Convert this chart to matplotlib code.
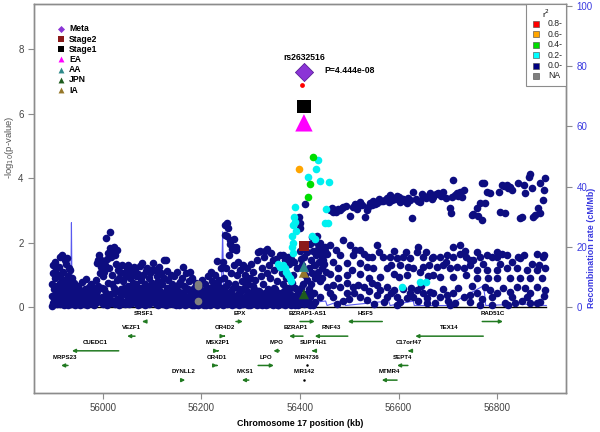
import matplotlib
matplotlib.use("Agg")
import matplotlib.pyplot as plt

plt.rcParams['font.family'] = ['Liberation Sans', 'DejaVu Sans']

# SNPs: (position kb, -log10 p), grouped by r2 colour
navy_west = [
    (55896,0.02),(55897,0.35),(55897,0.72),(55898,1.05),(55899,1.3),(55900,0.18),(55901,0.55),(55902,0.9),
    (55903,1.41),(55904,0.28),(55905,1.18),(55906,0.65),(55907,0.08),(55908,0.45),(55909,0.98),(55910,1.25),
    (55911,0.3),(55912,0.75),(55913,1.55),(55914,0.15),(55915,0.52),(55916,1.62),(55917,0.88),(55918,0.35),
    (55919,1.1),(55920,0.05),(55921,0.62),(55922,1.46),(55923,0.25),(55924,0.8),(55925,1.35),(55926,0.42),
    (55927,1.51),(55928,0.12),(55929,0.95),(55930,0.58),(55931,1.2),(55932,0.3),(55933,1.15),(55934,0.7),
    (55935,0.08),(55936,0.48),(55937,0.9),(55938,0.22),(55939,0.6),(55940,0.38),(55941,0.12),(55942,0.75),
    (55943,0.28),(55944,0.05),(55946,0.42),(55948,0.15),(55950,0.65),(55951,0.3),(55953,0.05),(55955,0.5),
    (55956,0.22),(55958,0.78),(55960,0.35),(55961,0.1),(55963,0.55),(55965,0.25),(55966,0.88),(55968,0.4),
    (55970,0.08),(55971,0.62),(55973,0.3),(55975,0.18),(55976,0.72),(55978,0.45),(55980,0.1),(55981,0.58),
    (55983,0.28),(55985,0.85),(55986,0.4),(55988,0.15),(55989,0.65),
    (55987,1.36),(55990,1.46),(55992,1.61),(55994,1.05),(55996,1.25),(55997,1.46),(55999,0.3),(56000,0.95),
    (56002,1.1),(56003,0.55),(56005,1.3),(56006,2.13),(56008,1.5),(56010,0.75),(56011,1.67),(56012,1.2),
    (56014,2.34),(56015,1.82),(56016,0.4),(56017,1.56),(56018,1.0),(56020,1.72),(56021,0.2),(56022,1.85),
    (56023,0.6),(56024,1.62),(56026,1.35),(56028,1.77),(56029,0.85),(56030,1.15),(56004,0.15),(56009,0.05),
    (56013,0.35),(56019,0.7),(56025,0.1),(56027,0.5),
]
navy_centre = [
    (56032,0.9),(56034,0.25),(56035,1.1),(56037,0.55),(56038,1.3),(56040,0.12),(56041,0.8),(56043,1.05),
    (56044,0.4),(56046,0.95),(56047,0.2),(56049,1.2),(56050,0.65),(56051,1.3),(56053,0.08),(56054,0.9),
    (56056,0.45),(56057,1.1),(56059,0.3),(56060,0.75),(56062,1.25),(56063,0.15),(56065,1.15),(56066,0.55),
    (56068,0.95),(56069,0.35),(56071,0.05),(56072,1.02),(56074,0.6),(56075,1.28),(56077,0.25),(56078,0.85),
    (56079,1.36),(56081,0.45),(56082,1.0),(56084,0.15),(56085,0.7),(56087,1.12),(56088,0.3),(56090,1.2),
    (56091,0.55),(56093,0.9),(56094,0.1),(56096,1.05),(56097,0.4),(56099,0.75),(56100,1.15),(56102,1.36),
    (56103,0.2),(56105,0.62),(56106,1.15),(56108,0.35),(56109,0.95),(56111,0.05),(56112,0.8),(56114,1.25),
    (56115,0.5),(56117,0.25),(56118,1.05),(56120,0.7),(56121,0.12),(56123,0.9),(56124,1.46),(56126,0.4),
    (56127,1.46),(56129,0.6),(56130,1.12),
    (56132,0.3),(56133,0.85),(56135,0.08),(56136,0.55),(56138,1.0),(56140,0.2),(56141,0.7),(56143,0.4),
    (56145,0.95),(56146,0.12),(56148,0.6),(56150,0.3),(56151,1.1),(56153,0.5),(56155,0.05),(56156,0.78),
    (56158,0.25),(56160,0.9),(56161,0.45),(56162,1.25),(56164,0.15),(56165,0.65),(56167,0.35),(56169,1.05),
    (56170,0.1),(56172,0.55),(56174,0.8),(56175,0.28),(56177,1.1),(56179,0.42),(56180,0.9),(56182,0.18),
    (56184,0.6),(56185,0.05),(56187,0.35),(56189,0.75),(56190,0.2),(56194,0.45),(56196,0.1),(56198,0.55),
    (56200,0.3),(56201,0.85),(56203,0.15),(56205,0.5),(56207,0.25),(56208,0.7),(56210,0.05),(56212,0.4),
    (56214,0.95),(56215,0.2),(56217,0.6),(56219,1.1),(56220,0.3),(56222,0.8),(56224,0.12),(56226,0.5),
    (56228,1.0),(56229,0.35),(56231,1.43),(56233,0.65),(56234,0.18),(56236,0.85),(56238,0.45),(56239,1.2),
]
navy_floor = [
    (55899,0.12),(55904,0.42),(55908,0.22),(55913,0.1),(55917,0.45),(55921,0.3),(55926,0.18),(55930,0.05),
    (55934,0.35),(55939,0.5),(55944,0.2),(55947,0.55),(55952,0.1),(55957,0.4),(55962,0.2),(55967,0.05),
    (55972,0.45),(55977,0.25),(55982,0.05),(55987,0.5),(55993,0.2),(55998,0.6),(56001,0.1),(56007,0.45),
    (56012,0.25),(56017,0.12),(56022,0.45),(56028,0.25),(56033,0.05),(56036,0.4),(56042,0.6),(56045,0.1),
    (56048,0.5),(56052,0.3),(56055,0.6),(56058,0.12),(56061,0.45),(56064,0.3),(56067,0.7),(56070,0.2),
    (56073,0.4),(56076,0.1),(56080,0.6),(56083,0.3),(56086,0.05),(56089,0.45),(56092,0.25),(56095,0.6),
    (56098,0.15),(56101,0.5),(56104,0.35),(56107,0.1),(56110,0.55),(56113,0.3),(56116,0.7),(56119,0.4),
    (56122,0.1),(56125,0.25),(56128,0.05),(56131,0.5),(56134,0.35),(56137,0.15),(56139,0.6),(56142,0.1),
    (56144,0.25),(56147,0.45),(56149,0.05),(56152,0.2),(56154,0.7),(56157,0.45),(56159,0.1),(56163,0.3),
    (56166,0.05),(56168,0.55),(56171,0.3),(56173,0.12),(56176,0.5),(56178,0.2),(56181,0.05),(56183,0.35),
    (56186,0.55),(56188,0.1),(56191,0.4),(56193,0.05),(56195,0.3),(56197,0.7),(56199,0.12),(56202,0.45),
    (56204,0.3),(56206,0.05),(56209,0.35),(56211,0.6),(56213,0.15),(56216,0.4),(56218,0.05),(56221,0.5),
    (56223,0.25),(56225,0.7),(56227,0.1),(56230,0.3),(56232,0.05),(56235,0.5),(56237,0.2),(56240,0.35),
    (56243,0.05),(56246,0.2),(56249,0.65),(56252,0.1),(56255,0.4),(56258,0.25),(56261,0.05),(56263,0.6),
    (56266,0.35),(56269,0.1),(56273,0.2),(56276,0.05),(56278,0.35),(56281,0.5),(56283,0.1),(56286,0.25),
    (56288,0.8),(56291,0.1),(56293,0.5),(56296,0.25),(56298,0.05),(56301,0.4),(56303,0.1),(56306,0.55),
    (56308,0.2),(56311,0.35),(56313,0.05),(56316,0.5),(56318,0.1),(56321,0.3),(56323,0.05),(56326,0.2),
    (56328,0.45),(56331,0.05),(56334,0.3),(56336,0.1),(56339,0.5),(56341,0.2),(56344,0.35),(56346,0.05),
    (56349,0.55),(56351,0.15),(56354,0.3),(56356,0.05),(56359,0.2),(56361,0.4),(56364,0.1),(56367,0.5),
    (56369,0.05),(56371,0.3),(56374,0.6),(56376,0.15),(56379,0.4),(56381,0.05),(56384,0.3),(56386,0.15),
    (56389,0.05),(56391,0.35),(56394,0.2),(56396,0.05),(56403,0.6),(56407,0.35),(56412,0.2),(56417,0.45),
    (56421,0.05),
]
navy_peak = [
    (56241,0.1),(56242,0.6),(56244,1.41),(56245,0.3),(56246,0.9),(56247,2.24),(56248,2.55),(56249,1.2),
    (56250,0.45),(56251,2.6),(56252,2.2),(56253,0.75),(56254,2.45),(56255,1.6),(56256,0.2),(56257,2.08),
    (56258,1.95),(56259,1.05),(56260,0.5),(56261,1.8),(56262,0.3),(56264,1.87),(56265,2.1),(56266,1.3),
    (56267,0.15),(56268,0.7),(56270,1.77),(56271,1.85),(56272,1.0),(56274,0.4),(56275,1.4),
    (56277,0.55),(56279,1.15),(56280,0.25),(56282,0.8),(56284,1.3),(56285,0.1),(56287,0.6),(56289,1.0),
    (56290,0.35),(56292,1.2),(56294,0.05),(56295,0.7),(56297,0.45),(56299,0.9),(56300,1.35),(56302,0.2),
    (56304,0.65),(56305,1.1),(56307,0.3),(56309,0.85),(56310,0.08),(56312,1.45),(56314,0.5),(56315,1.7),
    (56317,0.25),(56319,1.74),(56320,0.95),(56322,1.2),(56324,0.4),(56325,0.7),(56327,1.55),(56329,1.75),
    (56330,0.15),(56332,1.05),(56333,1.79),(56335,0.55),(56337,1.3),(56338,0.3),(56340,0.9),(56342,1.67),
    (56343,0.1),(56345,1.45),(56347,0.6),(56348,1.15),(56350,0.35),(56352,1.5),(56353,0.8),(56355,0.05),
    (56357,1.25),(56358,0.45),(56360,1.6),(56362,0.25),(56363,1.05),(56365,0.7),(56366,1.6),(56368,0.3),
    (56370,1.45),(56372,0.9),(56373,0.15),(56375,1.55),(56377,0.55),(56378,1.35),(56380,0.2),(56382,1.5),
    (56383,0.75),(56385,1.0),(56387,0.35),(56388,1.4),(56390,0.6),(56392,0.1),(56393,1.2),(56395,0.45),
    (56398,2.8),(56400,2.6),(56401,2.45),(56399,1.75),(56402,1.5),(56404,0.25),(56405,1.3),(56406,0.7),
    (56408,1.55),(56409,0.1),(56410,3.2),(56411,1.0),(56413,0.4),(56414,1.7),(56415,0.85),(56416,0.15),
    (56418,1.2),(56419,0.55),(56420,1.95),(56421,0.3),(56422,1.45),(56423,0.7),(56424,2.18),(56425,1.05),
    (56426,0.05),(56427,1.75),(56428,0.45),(56429,1.3),(56430,0.9),
]
navy_east_top = [
    (56461,3.01),(56465,3.06),(56468,2.94),(56471,3.0),(56474,2.96),(56478,3.05),(56481,3.01),(56485,3.08),
    (56488,3.1),(56494,3.15),(56502,2.83),(56507,3.12),(56511,3.2),(56515,3.05),(56518,3.13),(56521,3.27),
    (56526,3.18),(56532,2.8),(56535,3.01),(56539,3.12),(56543,3.22),(56546,3.17),(56549,3.3),(56552,3.2),
    (56556,3.22),(56560,3.35),(56564,3.28),(56568,3.3),(56573,3.32),(56577,3.38),(56580,3.25),(56583,3.48),
    (56586,3.32),(56589,3.4),(56593,3.34),(56597,3.45),(56600,3.43),(56603,3.27),(56607,3.35),(56610,3.37),
    (56613,3.3),(56617,3.22),(56620,3.4),(56623,3.32),(56627,2.75),(56630,3.58),(56636,3.35),(56640,3.3),
    (56644,3.27),(56647,3.5),(56650,3.43),(56655,3.4),(56661,3.48),(56664,3.55),(56667,3.37),(56671,3.43),
    (56676,3.5),(56681,3.53),(56686,3.45),(56691,3.58),(56697,3.4),(56705,3.06),(56706,2.91),(56708,3.43),
    (56711,3.94),(56714,3.48),(56718,3.53),(56721,3.45),(56725,3.58),(56728,3.43),(56732,3.63),(56749,2.86),
    (56752,2.9),(56759,3.06),(56762,2.83),(56766,3.22),(56769,2.7),(56770,3.84),(56773,3.84),(56776,3.22),
    (56779,3.58),(56786,3.53),(56803,3.58),(56806,2.95),(56810,3.79),(56816,2.91),(56815,3.75),(56820,3.79),
    (56823,3.7),(56826,3.74),(56830,3.63),(56843,3.84),(56847,2.75),(56850,2.78),(56854,3.79),(56857,3.53),
    (56864,4.05),(56867,4.13),(56870,3.69),(56874,2.8),(56878,2.85),(56884,3.06),(56887,3.84),(56888,2.91),
    (56893,3.32),(56896,3.63),(56898,4.0),
]
navy_east_mid = [
    (56434,1.98),(56441,1.77),(56451,1.87),(56461,1.93),(56474,1.77),(56488,2.08),(56502,1.93),(56512,1.77),
    (56522,1.77),(56539,1.56),(56556,1.93),(56546,1.56),(56569,1.56),(56583,1.56),(56596,1.51),(56610,1.56),
    (56623,1.51),(56640,1.87),(56637,1.72),(56650,1.56),(56667,1.51),(56661,1.3),(56630,1.2),(56603,1.3),
    (56576,1.2),(56549,1.2),(56522,1.36),(56495,1.36),(56468,1.41),(56447,1.46),(56430,1.3),(56444,1.2),
    (56434,0.99),(56461,1.04),(56495,0.99),(56522,1.04),(56562,0.94),(56590,1.04),(56617,0.99),(56644,1.1),
    (56455,1.65),(56482,1.6),(56508,1.6),(56530,1.65),(56560,1.7),(56590,1.75),(56615,1.7),(56655,1.7),
    (56478,1.2),(56505,1.15),(56535,1.25),(56585,1.3),(56620,1.25),(56650,1.25),(56478,0.9),(56540,0.9),
    (56600,0.92),(56660,0.95),(56432,1.6),(56436,1.8),(56438,1.4),(56440,2.0),(56443,1.7),(56445,1.55),
    (56434,2.2),(56437,1.1),(56440,0.8),(56445,0.9),(56448,1.35),(56450,1.75),(56452,1.1),
    (56711,1.87),(56725,1.93),(56671,1.56),(56684,1.56),(56698,1.61),(56711,1.56),(56725,1.66),(56738,1.56),
    (56752,1.46),(56766,1.56),(56779,1.61),(56789,1.56),(56799,1.56),(56810,1.66),(56820,1.61),(56843,1.56),
    (56847,1.51),(56881,1.66),(56896,1.61),(56894,1.56),(56678,1.25),(56691,1.3),(56705,1.2),(56718,1.25),
    (56732,1.2),(56745,1.3),(56759,1.15),(56779,1.15),(56799,1.15),(56820,1.2),(56840,1.2),(56860,1.15),
    (56881,1.15),(56898,1.2),(56671,0.99),(56684,0.94),(56711,0.94),(56738,0.99),(56759,0.89),(56782,0.89),
    (56799,0.89),(56826,0.89),(56847,0.89),(56867,0.89),(56891,0.89),(56697,1.4),(56745,1.45),(56771,1.35),
    (56805,1.35),(56830,1.4),(56870,1.35),(56855,1.62),(56885,1.3),(56760,1.7),(56800,1.72),(56735,1.75),
]
navy_east_low = [
    (56454,0.63),(56468,0.68),(56481,0.63),(56495,0.74),(56508,0.63),(56518,0.68),(56529,0.63),(56546,0.74),
    (56556,0.68),(56562,0.53),(56576,0.63),(56590,0.53),(56623,0.43),(56637,0.53),(56650,0.43),(56664,0.48),
    (56441,0.32),(56468,0.32),(56495,0.43),(56522,0.32),(56535,0.22),(56556,0.37),(56576,0.32),(56596,0.32),
    (56617,0.27),(56630,0.32),(56657,0.27),(56417,0.11),(56430,0.17),(56596,0.05),(56657,0.11),(56488,0.2),
    (56510,0.45),(56540,0.5),(56570,0.15),(56610,0.55),(56640,0.2),(56460,0.45),(56475,0.1),(56500,0.25),
    (56550,0.1),(56585,0.45),(56603,0.15),(56625,0.6),(56645,0.65),
    (56671,0.43),(56684,0.32),(56698,0.37),(56711,0.43),(56732,0.32),(56745,0.37),(56759,0.43),(56776,0.63),
    (56786,0.53),(56799,0.43),(56813,0.58),(56826,0.48),(56840,0.63),(56857,0.58),(56867,0.43),(56881,0.63),
    (56898,0.53),(56674,0.11),(56705,0.06),(56715,0.11),(56745,0.17),(56766,0.06),(56789,0.06),(56816,0.11),
    (56823,0.06),(56837,0.11),(56867,0.11),(56881,0.11),(56887,0.17),(56690,0.55),(56720,0.6),(56750,0.65),
    (56790,0.3),(56830,0.3),(56860,0.3),(56895,0.35),(56700,0.2),(56770,0.25),(56850,0.2),
]
cyan_pts = [
    (56390,3.12),(56436,4.56),(56432,4.29),(56417,4.05),(56441,3.91),(56459,3.87),(56452,3.04),(56451,2.6),
    (56456,2.6),(56386,2.55),(56383,2.19),(56385,2.0),(56383,1.85),(56386,1.69),(56424,2.19),(56430,2.1),
    (56365,1.3),(56369,1.2),(56372,1.1),(56376,0.99),(56379,0.89),(56382,0.82),(56360,1.25),(56355,1.35),
    (56608,0.63),(56644,0.79),(56656,0.79),(56392,2.35),(56388,2.8),(56390,2.65),
]
green_pts = [(56427,4.67),(56420,3.81),(56416,3.41)]
orange_pts = [(56398,4.29)]
red_pts = [(56404,6.9)]
na_pts = [(56192,0.72),(56192,0.65),(56192,0.2)]

# index SNP in each study (kb, -log10 p)
lead_kb = 56408
study_names = ["Meta", "Stage2", "Stage1", "EA", "AA", "JPN", "IA"]
study_logp = [7.31, 1.89, 6.22, 5.72, 1.25, 0.40, 1.07]
study_colors = ["#8B35D6", "#8B1A1A", "#000000", "#FF00FF", "#2F8A8A", "#1E5C1E", "#96782A"]
study_markers = ["D", "s", "s", "^", "^", "^", "^"]
study_sizes = [85, 55, 92, 157, 55, 55, 55]

# recombination rate (kb, cM/Mb)
recomb = [(55895,0.5),(55920,1.0),(55933,2),(55935,10),(55936,28),(55937,8),(55940,1.5),(55960,1),(55962,5),
          (55964,1),(55990,0.8),(56010,1.5),(56040,1),(56044,7),(56046,1),(56070,0.8),(56078,5),(56080,1),
          (56108,1),(56111,8),(56113,1),(56140,1),(56170,1.5),(56173,9),(56175,1),(56200,0.8),(56230,1),
          (56240,3),(56243,25),(56245,5),(56250,1),(56300,0.8),(56308,4),(56310,1),(56360,1),(56366,6),
          (56368,1),(56395,1),(56398,3),(56400,1),(56452,2),(56455,0.5),(56490,2.5),(56492,0.5),(56580,2),
          (56583,0.5),(56630,2),(56632,0.5),(56700,0.5),(56772,7),(56775,4),(56777,0.5),(56850,1),(56900,0.5)]

# genes
gene_names = ["SRSF1","EPX","BZRAP1-AS1","HSF5","RAD51C","VEZF1","OR4D2","BZRAP1","RNF43","TEX14",
              "CUEDC1","MSX2P1","MPO","SUPT4H1","C17orf47","MRPS23","OR4D1","LPO","MIR4736","SEPT4",
              "DYNLL2","MKS1","MIR142","MTMR4"]
gene_start = [56080,56270,56400,56497,56770,56049,56246,56378,56430,56634,55937,56233,56346,56424,56619,
              55915,56231,56315,56414,56597,56160,56282,56408,56566]
gene_end = [56085,56284,56430,56567,56812,56065,56247,56406,56497,56772,56032,56234,56358,56429,56623,
            55929,56232,56347,56414,56619,56167,56296,56408,56597]
gene_strand = ["-","+","+","-","+","-","+","-","-","-","-","+","-","-","-","-","+","+","+","-","+","-","+","-"]
gene_row = [1,1,1,1,1,2,2,2,2,2,3,3,3,3,3,4,4,4,4,4,5,5,5,5]

r2_labels = ["0.8-", "0.6-", "0.4-", "0.2-", "0.0-", "NA"]
r2_colors = ["#FF0000", "#FFA500", "#00DD00", "#00FFFF", "#000080", "#7F7F7F"]

NAVY = "#0D0D80"
GREEN = "#217A21"
FRAME = "#8C8C8C"

fig = plt.figure(figsize=(6, 4.32), dpi=100)
ax = fig.add_axes([34/600, 1-393/432, 532/600, 389/432])
ymin, ymax = -2.67, 9.41
ax.set_xlim(55860, 56940)
ax.set_ylim(ymin, ymax)

# recombination on twin axis
ax2 = ax.twinx()
scale = 100 / 9.35
ax2.set_ylim(ymin * scale, ymax * scale)
ax2.plot([p[0] for p in recomb], [p[1] for p in recomb], color="#5A5AF0", lw=0.8, zorder=1)
ax2.set_yticks([0, 20, 40, 60, 80, 100])
ax2.tick_params(axis="y", colors=FRAME, labelcolor="#3A3AE0", labelsize=7, length=4, width=0.8)
ax.set_zorder(ax2.get_zorder() + 1)
ax.patch.set_visible(False)

ax.plot([55897, 56900], [0, 0], color="black", lw=1, zorder=2)

def draw(pts, color, size=30):
    ax.scatter([p[0] for p in pts], [p[1] for p in pts], s=size, color=color, linewidths=0, zorder=3)

for grp in (navy_west, navy_centre, navy_floor, navy_peak, navy_east_top, navy_east_mid, navy_east_low):
    draw(grp, NAVY)
draw(na_pts, "#7F7F7F")
draw(cyan_pts, "#00F0F0")
draw(green_pts, "#00DD00")
draw(orange_pts, "#FFA500")
draw(red_pts, "#FF0000", 12)

order = [6, 5, 4, 3, 1, 2, 0]
for i in order:
    ec = "#5B1F99" if study_names[i] == "Meta" else "none"
    ax.scatter([lead_kb], [study_logp[i]], s=study_sizes[i], marker=study_markers[i],
               color=study_colors[i], edgecolors=ec, linewidths=0.6, zorder=4)

ax.text(lead_kb, 7.76, "rs2632516", fontsize=6.2, fontweight="bold", ha="center", va="center", zorder=5)
ax.text(56449, 7.34, "P=4.444e-08", fontsize=6.2, fontweight="bold", ha="left", va="center", zorder=5)

# genes
for name, s, e, strand, row in zip(gene_names, gene_start, gene_end, gene_strand, gene_row):
    y = -0.45 - 0.455 * (row - 1)
    ax.text((s + e) / 2, y + 0.26, name, fontsize=4.4, fontweight="bold", ha="center", va="center")
    if s == e:
        ax.plot([s], [y], marker="o", ms=0.8, color="black")
        continue
    tail, head = (s, e) if strand == "+" else (e, s)
    ax.annotate("", xy=(head, y), xytext=(tail, y),
                arrowprops=dict(arrowstyle="-|>", color=GREEN, lw=1.1, mutation_scale=5,
                                shrinkA=0, shrinkB=0))

# axes styling
ax.set_yticks([0, 2, 4, 6, 8])
ax.set_xticks([56000, 56200, 56400, 56600, 56800])
ax.tick_params(colors=FRAME, labelcolor="#444444", labelsize=7, length=4, width=0.8)
for a in (ax, ax2):
    for sp in a.spines.values():
        sp.set_color(FRAME)
        sp.set_linewidth(1.0)

fig.text(10/600, 1-147/432, r"-log$_{10}$(p-value)", rotation=90, ha="center", va="center",
         fontsize=6.8, color="#555555")
fig.text(592/600, 1-248/432, "Recombination rate (cM/Mb)", rotation=90, ha="center", va="center",
         fontsize=6.4, fontweight="bold", color="#3A3AE0")
fig.text(300/600, 1-424/432, "Chromosome 17 position (kb)", ha="center", va="center",
         fontsize=6.4, fontweight="bold")

# study legend (top left)
for k, name in enumerate(study_names):
    yy = 0.936 - 0.0262 * k
    ax.scatter([0.0508], [yy], s=18 if study_markers[k] != "D" else 13, marker=study_markers[k],
               color=study_colors[k], transform=ax.transAxes, zorder=5, linewidths=0)
    ax.text(0.0658, yy, name, transform=ax.transAxes, fontsize=6.2, fontweight="bold", va="center")

# r2 legend (top right)
box = plt.Rectangle((0.925, 0.7892), 0.075, 0.2108, transform=ax.transAxes, facecolor="white",
                    edgecolor=FRAME, lw=0.8, zorder=5)
ax.add_patch(box)
ax.text(0.9624, 0.975, r"r$^2$", transform=ax.transAxes, fontsize=6, ha="center", va="center", zorder=6)
for k, (lab, col) in enumerate(zip(r2_labels, r2_colors)):
    yy = 0.9486 - 0.0267 * k
    ax.scatter([0.9436], [yy], s=20, marker="s", color=col, edgecolors="#444444", linewidths=0.4,
               transform=ax.transAxes, zorder=6)
    ax.text(0.9662, yy, lab, transform=ax.transAxes, fontsize=6.2, va="center", color="#222222", zorder=6)

fig.savefig("out.png", dpi=100)
